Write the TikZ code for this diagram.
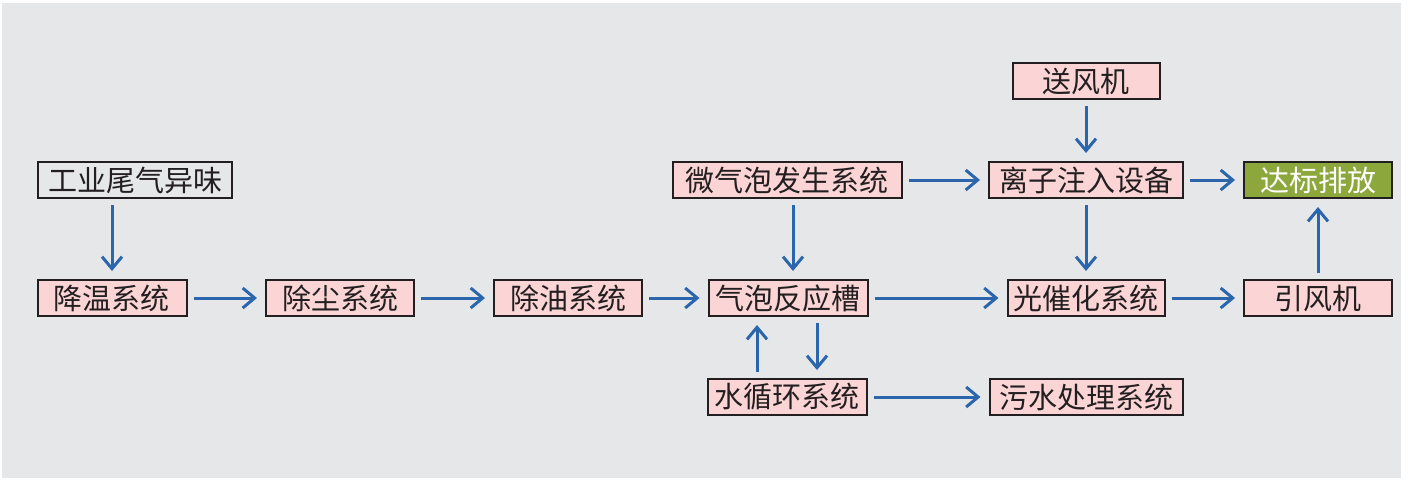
\documentclass[tikz,border=0pt]{standalone}
\usepackage{fontspec}
\setmainfont{Noto Sans CJK SC}
\usetikzlibrary{arrows.meta}
\definecolor{bggray}{HTML}{E6E7E9}
\definecolor{boxpink}{HTML}{FBD5D5}
\definecolor{boxgreen}{HTML}{8CA83C}
\definecolor{boxline}{HTML}{231F20}
\definecolor{flowblue}{HTML}{2B66AC}

\begin{document}
\begin{tikzpicture}[x=0.5pt,y=-0.5pt,
  box/.style={draw=boxline,line width=1pt,fill=boxpink,text=boxline,minimum height=18pt,inner sep=0pt,font=\fontsize{14.5}{16}\selectfont},
  flow/.style={draw=flowblue,line width=1.5pt,-{Straight Barb[length=6pt,width=10pt]},shorten <=3pt,shorten >=4pt}]
  \useasboundingbox (0,0) rectangle (1408,484);
  \fill[bggray] (2,3) rectangle (1401,478);

  % left chain
  \node[box,fill=bggray,minimum width=97pt] (exhaust) at (135,180) {工业尾气异味};
  \node[box,minimum width=74.5pt] (cooling) at (112,298) {降温系统};
  \node[box,minimum width=74pt] (dedust) at (340,298) {除尘系统};
  \node[box,minimum width=74pt] (degrease) at (568,298) {除油系统};

  % reaction tank and its loop
  \node[box,minimum width=79.5pt] (tank) at (788,298) {气泡反应槽};
  \node[box,minimum width=114.5pt] (bubbler) at (787,180) {微气泡发生系统};
  \node[box,minimum width=79.5pt] (water) at (787,397) {水循环系统};

  % right side
  \node[box,minimum width=73.5pt] (blower) at (1086,81) {送风机};
  \node[box,minimum width=97pt] (ion) at (1086,180) {离子注入设备};
  \node[box,minimum width=78.5pt] (photo) at (1086,298) {光催化系统};
  \node[box,minimum width=96.5pt] (sewage) at (1086,397) {污水处理系统};
  \node[box,fill=boxgreen,text=white,minimum width=74pt] (outlet) at (1318,180) {达标排放};
  \node[box,minimum width=74pt] (fan) at (1318,298) {引风机};

  \draw[flow] (exhaust.south -| cooling.north) -- (cooling.north);
  \draw[flow] (cooling) -- (dedust);
  \draw[flow] (dedust) -- (degrease);
  \draw[flow] (degrease) -- (tank);
  \draw[flow] ([xshift=3pt]bubbler.south) -- ([xshift=3pt]bubbler.south |- tank.north);
  \draw[flow] ([xshift=-15pt]water.north) -- ([xshift=-15pt]water.north |- tank.south);
  \draw[flow] ([xshift=15pt]water.north |- tank.south) -- ([xshift=15pt]water.north);
  \draw[flow] (bubbler) -- (ion);
  \draw[flow] (blower) -- (ion);
  \draw[flow] (ion) -- (outlet);
  \draw[flow] (ion) -- (photo);
  \draw[flow] (tank) -- (photo);
  \draw[flow] (photo) -- (fan);
  \draw[flow] (fan) -- (outlet);
  \draw[flow] (water) -- (sewage);
\end{tikzpicture}
\end{document}
